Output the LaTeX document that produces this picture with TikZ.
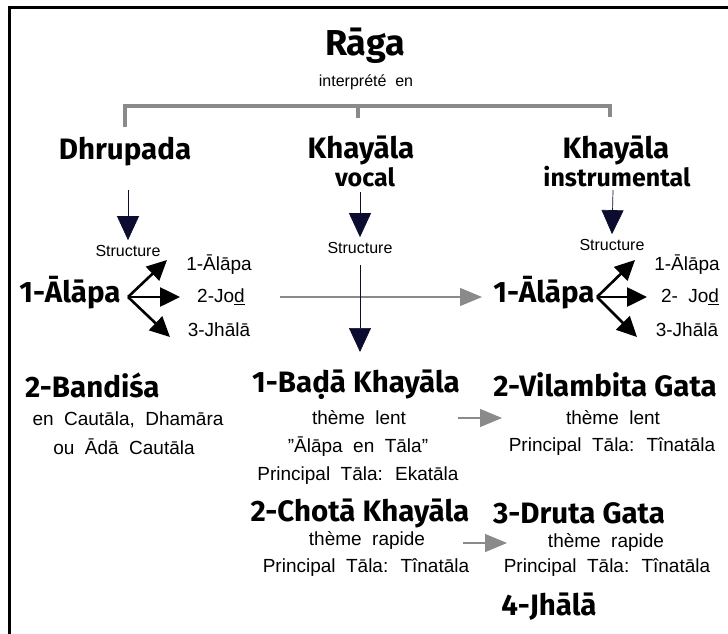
\documentclass[tikz,border=0pt]{standalone}
\usepackage{fontspec}
\setmainfont{Liberation Sans}
\newfontfamily\headfont{Fira Sans}
\usetikzlibrary{arrows.meta}

\definecolor{marine}{HTML}{0C0C30}
\definecolor{grisclair}{HTML}{8A8A8A}
\newcommand\espacelarge{\spaceskip=0.55em\relax}

\tikzset{
  titre/.style={font=\headfont\bfseries\fontsize{36}{38}\selectfont, inner sep=0pt},
  tete/.style={font=\headfont\bfseries\fontsize{29.5}{31}\selectfont, inner sep=0pt},
  sous/.style={font=\headfont\bfseries\fontsize{25}{27}\selectfont, inner sep=0pt},
  petit/.style={font=\fontsize{19}{21}\selectfont\espacelarge, inner sep=0pt},
  mini/.style={font=\fontsize{16}{18}\selectfont\espacelarge, inner sep=0pt},
  crochet/.style={grisclair, line width=4pt},
  versbas/.style={marine, line width=0.7pt, -{Triangle[length=24pt,width=22pt]}},
  fourche/.style={line width=2.6pt, -{Triangle[length=20pt,width=19pt]}},
  grisfl/.style={grisclair, line width=1.2pt, -{Triangle[length=22pt,width=18pt]}}
}

\begin{document}
\begin{tikzpicture}[x=1pt, y=-1pt]
\useasboundingbox (0,0) rectangle (728,634);
% cadre
\draw[line width=3pt] (9,650) -- (9,8) -- (740,8);

% titre
\node[titre] (raga) at (365,46) {Rāga};
\node[mini] (interp) at (366,82) {interprété en};

% accolade grise
\coordinate (hg) at (125,106);
\coordinate (hm) at (358,106);
\coordinate (hd) at (610,106);
\coordinate (bg) at (125,127);
\coordinate (bm) at (358,118);
\coordinate (bd) at (610,117);
\draw[crochet] (bg) -- (hg) -- (hd) -- (bd);
\draw[crochet] (hm) -- (bm);

% les trois formes
\node[tete] (dhru) at (125,152) {Dhrupada};
\node[tete] (khv) at (361,150) {Khayāla};
\node[sous] (voc) at (365,177) {vocal};
\node[tete] (khi) at (616,150) {Khayāla};
\node[sous] (inst) at (617,177) {instrumental};

\node[mini] (s1) at (128,251) {Structure};
\node[mini] (s2) at (360,248) {Structure};
\node[mini] (s3) at (612,245) {Structure};

\coordinate (a1) at (128,190);
\coordinate (a2) at (360,192);
\coordinate (a3) at (613,190);
\draw[versbas] (a1) -- ([yshift=5pt]s1.north);
\draw[versbas] (a2) -- ([yshift=5pt]s2.north);
\draw[versbas] (a3) -- ([yshift=5pt]s3.north);

% Alapa, Dhrupada
\node[tete] (alg) at (70,293) {1-Ālāpa};
\coordinate (fg) at (128,297);
\coordinate (tg1) at (167,260);
\coordinate (tg2) at (180,297);
\coordinate (tg3) at (170,337);
\draw[fourche] (fg) -- (tg1);
\draw[fourche] (fg) -- (tg2);
\draw[fourche] (fg) -- (tg3);
\node[petit] (l1) at (219,265) {1-Ālāpa};
\node[petit] (l2) at (221,297) {2-Jo\underline{d}};
\node[petit] (l3) at (219,330) {3-Jhālā};

% Alapa, instrumental
\node[tete] (ald) at (544,293) {1-Ālāpa};
\coordinate (fd) at (597,297);
\coordinate (td1) at (635,260);
\coordinate (td2) at (647,297);
\coordinate (td3) at (637,337);
\draw[fourche] (fd) -- (td1);
\draw[fourche] (fd) -- (td2);
\draw[fourche] (fd) -- (td3);
\node[petit] (r1) at (687,265) {1-Ālāpa};
\node[petit] (r2) at (690,297) {2- Jo\underline{d}};
\node[petit] (r3) at (687,330) {3-Jhālā};

% fleches centrales
\coordinate (c1) at (280,297);
\coordinate (c2) at (482,297);
\draw[grisfl] (c1) -- (c2);
\coordinate (m1) at (360,265);
\coordinate (m2) at (360,352);
\draw[versbas] (m1) -- (m2);

% Bandisa
\node[tete, anchor=west] (band) at (25,385) {2-Bandiśa};
\node[petit] (band1) at (128,420) {en Cautāla, Dhamāra};
\node[petit] (band2) at (124,447) {ou Ādā Cautāla};

% Khayala vocal
\node[tete] (bada) at (356,385) {1-Baḍā Khayāla};
\node[petit] (bada1) at (359,418) {thème lent};
\node[petit] (bada2) at (358,447) {"Ālāpa en Tāla"};
\node[petit] (bada3) at (358,476) {Principal Tāla: Ekatāla};
\node[tete] (chota) at (360,513) {2-Chotā Khayāla};
\node[petit] (chota1) at (367,540) {thème rapide};
\node[petit] (chota2) at (366,568) {Principal Tāla: Tînatāla};

% Khayala instrumental
\node[tete] (vila) at (605,385) {2-Vilambita Gata};
\node[petit] (vila1) at (613,418) {thème lent};
\node[petit] (vila2) at (612,447) {Principal Tāla: Tînatāla};
\node[tete] (druta) at (579,513) {3-Druta Gata};
\node[petit] (druta1) at (606,542) {thème rapide};
\node[petit] (druta2) at (607,568) {Principal Tāla: Tînatāla};
\node[tete] (jhala) at (549,607) {4-Jhālā};

\coordinate (g1) at (458,418);
\coordinate (g2) at (502,418);
\coordinate (g3) at (463,543);
\coordinate (g4) at (507,543);
\draw[grisfl] (g1) -- (g2);
\draw[grisfl] (g3) -- (g4);
\end{tikzpicture}
\end{document}
